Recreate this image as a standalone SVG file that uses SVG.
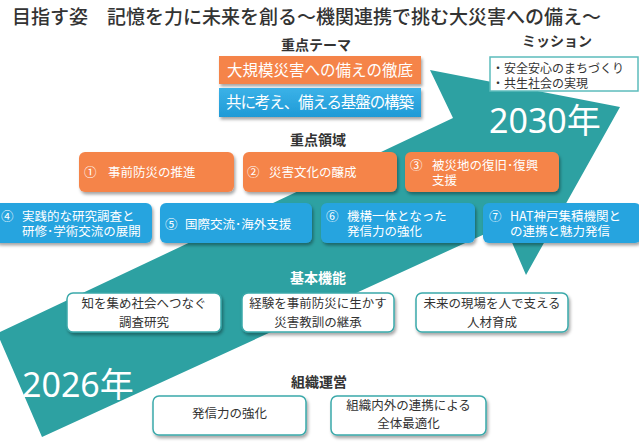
<svg xmlns="http://www.w3.org/2000/svg" width="639" height="444" viewBox="0 0 639 444">
<defs>
<filter id="sh" x="-10%" y="-20%" width="125%" height="150%">
<feDropShadow dx="1.5" dy="2.5" stdDeviation="1.5" flood-color="#000" flood-opacity="0.35"/>
</filter>
<linearGradient id="bg" x1="0" y1="0" x2="0" y2="1">
<stop offset="0" stop-color="#3bb2e8"/>
<stop offset="1" stop-color="#1f9ad6"/>
</linearGradient>
</defs>
<style>
text{font-family:"Noto Sans CJK JP","Noto Sans",sans-serif;}
.title{font-size:19px;fill:#333;font-weight:500;}
.hd{font-size:14px;font-weight:bold;fill:#333;text-anchor:middle;}
.hdw{font-size:14px;font-weight:bold;fill:#fff;text-anchor:middle;}
.or{fill:#f5844a;filter:url(#sh);}
.bl{fill:#27a4df;filter:url(#sh);}
.blg{fill:url(#bg);filter:url(#sh);}
.wb{fill:#fff;stroke:#3aa9aa;stroke-width:1.5;filter:url(#sh);}
.tw{font-size:12.5px;fill:#fff;}
.tth{font-size:15.5px;fill:#fff;text-anchor:middle;}
.td{font-size:12.5px;fill:#333;text-anchor:middle;}
.tm{font-size:12px;fill:#333;}
.yr{font-family:"Noto Sans","Noto Sans CJK JP",sans-serif;font-size:34px;fill:#fff;}
</style>
<rect width="639" height="444" fill="#fff"/>
<g id="arrow">
<polygon points="-2,333 453,118 430,70 620,107 526,275 504.5,225 42,437 -2,335" fill="#2da1a2"/>
<text class="yr" x="489" y="133">2030年</text>
<text class="yr" x="22" y="397">2026年</text>
</g>
<text class="title" x="12" y="24">目指す姿　記憶を力に未来を創る～機関連携で挑む大災害への備え～</text>
<g id="theme">
<text class="hd" x="316" y="50">重点テーマ</text>
<g id="theme1"><rect class="or" x="219" y="56" width="202" height="28"/><text class="tth" x="320" y="76">大規模災害への備えの徹底</text></g>
<g id="theme2"><rect class="blg" x="219" y="88" width="202" height="29"/><text class="tth" x="320" y="108" textLength="188" lengthAdjust="spacing">共に考え、備える基盤の構築</text></g>
</g>
<g id="mission">
<text class="hd" x="557" y="46">ミッション</text>
<rect x="490" y="57" width="148" height="34" fill="#fff" stroke="#5cbcbc" stroke-width="1.5"/>
<text class="tm" x="492" y="72.5">・安全安心のまちづくり</text>
<text class="tm" x="492" y="87.5">・共生社会の実現</text>
</g>
<text class="hd" x="318" y="145">重点領域</text>
<g id="a1"><rect class="or" x="79" y="152" width="155" height="40" rx="6"/><text class="tw" x="84" y="177">①</text><text class="tw" x="108" y="177">事前防災の推進</text></g>
<g id="a2"><rect class="or" x="243" y="152" width="154" height="40" rx="6"/><text class="tw" x="247" y="177">②</text><text class="tw" x="269" y="177">災害文化の醸成</text></g>
<g id="a3"><rect class="or" x="405" y="152" width="154" height="40" rx="6"/><text class="tw" x="410" y="170">③</text><text class="tw" x="432" y="170">被災地の復旧･復興</text><text class="tw" x="432" y="184.5">支援</text></g>
<g id="a4"><rect class="bl" x="-6" y="203" width="158" height="40" rx="6"/><text class="tw" x="1" y="221">④</text><text class="tw" x="22" y="221">実践的な研究調査と</text><text class="tw" x="22" y="235.5">研修･学術交流の展開</text></g>
<g id="a5"><rect class="bl" x="160" y="203" width="152" height="40" rx="6"/><text class="tw" x="165" y="229">⑤</text><text class="tw" x="185" y="229">国際交流･海外支援</text></g>
<g id="a6"><rect class="bl" x="321" y="203" width="154" height="40" rx="6"/><text class="tw" x="326" y="221">⑥</text><text class="tw" x="347" y="221">機構一体となった</text><text class="tw" x="347" y="235.5">発信力の強化</text></g>
<g id="a7"><rect class="bl" x="483" y="203" width="158" height="40" rx="6"/><text class="tw" x="489" y="221">⑦</text><text class="tw" x="510" y="221">HAT神戸集積機関と</text><text class="tw" x="510" y="235.5">の連携と魅力発信</text></g>
<text class="hdw" x="318" y="283">基本機能</text>
<g id="f1"><rect class="wb" x="67" y="293" width="154" height="39" rx="6"/><text class="td" x="144" y="308">知を集め社会へつなぐ</text><text class="td" x="144" y="327">調査研究</text></g>
<g id="f2"><rect class="wb" x="242" y="293" width="152" height="39" rx="6"/><text class="td" x="318" y="308">経験を事前防災に生かす</text><text class="td" x="318" y="327">災害教訓の継承</text></g>
<g id="f3"><rect class="wb" x="416" y="293" width="152" height="39" rx="6"/><text class="td" x="492" y="308">未来の現場を人で支える</text><text class="td" x="492" y="327">人材育成</text></g>
<text class="hd" x="319" y="387">組織運営</text>
<g id="o1"><rect class="wb" x="153" y="396" width="153" height="39" rx="6"/><text class="td" x="229.5" y="418">発信力の強化</text></g>
<g id="o2"><rect class="wb" x="331" y="396" width="155" height="39" rx="6"/><text class="td" x="408.5" y="410">組織内外の連携による</text><text class="td" x="408.5" y="428">全体最適化</text></g>
</svg>
